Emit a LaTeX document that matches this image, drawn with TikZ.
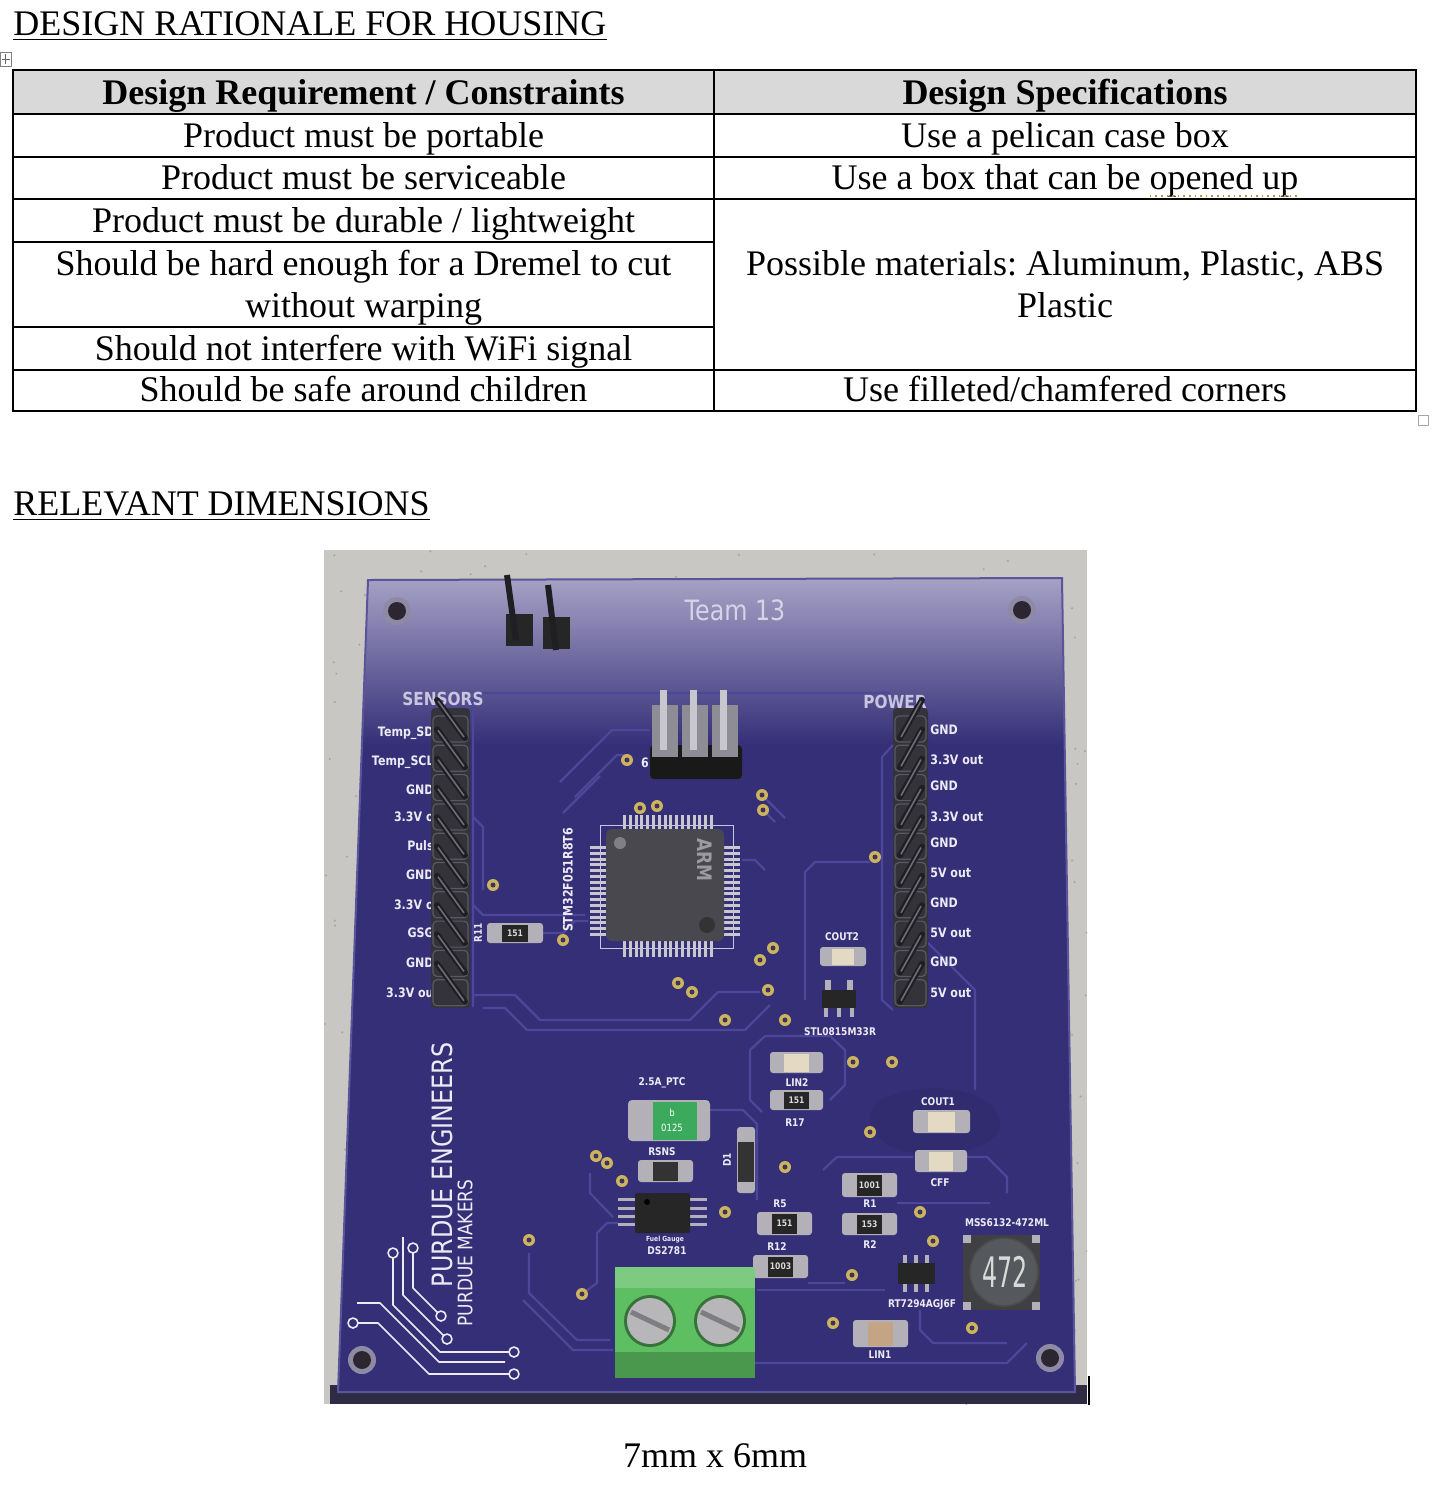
\documentclass[tikz,border=0pt]{standalone}
\usepackage{fontspec}
\setmainfont{Liberation Serif}
\newfontfamily\silkfont[FakeStretch=0.85]{DejaVu Sans}
\usepackage{tikz}
\frenchspacing

\definecolor{headgray}{HTML}{D9D9D9}
\definecolor{grammar}{HTML}{B8963A}
\definecolor{bggray}{HTML}{C9C7C3}
\definecolor{bgspeck}{HTML}{A9A6A2}
\definecolor{boardblue}{HTML}{352F78}
\definecolor{boarddark}{HTML}{2A2560}
\definecolor{boardedge}{HTML}{5A549A}
\definecolor{boardshadow}{HTML}{2F2B45}
\definecolor{glare}{HTML}{A8A3C6}
\definecolor{tracecol}{HTML}{4D4799}
\definecolor{padgold}{HTML}{CDB35E}
\definecolor{padhole}{HTML}{3A3560}
\definecolor{silkwhite}{HTML}{ECEAF4}
\definecolor{silkfaint}{HTML}{C9C5E0}
\definecolor{teamgray}{HTML}{D6D3E6}
\definecolor{holering}{HTML}{8E8AA6}
\definecolor{holedark}{HTML}{2B2630}
\definecolor{metal}{HTML}{B3B0B8}
\definecolor{metalgray}{HTML}{8E8C94}
\definecolor{pinsilver}{HTML}{C9C7CE}
\definecolor{chipgray}{HTML}{49484F}
\definecolor{capcream}{HTML}{E4D9C2}
\definecolor{captan}{HTML}{C3A585}
\definecolor{termgreen}{HTML}{5DBE62}
\definecolor{ptcgreen}{HTML}{3BAA5C}
\definecolor{screwgray}{HTML}{B7B7BA}
\definecolor{screwslot}{HTML}{7D7D82}
\definecolor{housing}{HTML}{34333A}
\definecolor{housingedge}{HTML}{5A5962}
\definecolor{pinblack}{HTML}{1F1E22}
\definecolor{pinshine}{HTML}{6E6D75}
\definecolor{inductorbase}{HTML}{3F3F44}
\definecolor{inductorgray}{HTML}{55585C}

\newcommand{\smdpart}[7]{%
  \fill[metal, rounded corners=1.5pt] (#2,#3) rectangle (#4,#5);
  \fill[#6] ({#2+0.27*(#4-#2)},{#3+1.5}) rectangle ({#4-0.27*(#4-#2)},{#5-1.5});
  \node[marking] (#1) at ({(#2+#4)/2},{(#3+#5)/2}) {#7};
}

\begin{document}
\begin{tikzpicture}[x=0.5pt, y=-0.5pt,
    cell/.style={font=\fontsize{18}{20.5}\selectfont, anchor=base, inner sep=0pt},
    headcell/.style={cell, font=\fontsize{18}{20.5}\selectfont\bfseries},
    rule/.style={line width=1pt},
    silk/.style={text=silkwhite, font=\silkfont\bfseries\fontsize{6.5}{7}\selectfont, inner sep=0pt},
    tinysilk/.style={silk, font=\silkfont\bfseries\fontsize{5.3}{6}\selectfont},
    marking/.style={text=white!85!black, font=\silkfont\bfseries\fontsize{4.5}{5}\selectfont, inner sep=0pt},
    trace/.style={draw=tracecol, line width=1.1pt, line join=round},
    logo/.style={draw=silkwhite, line width=0.8pt, line join=round}]

  \useasboundingbox (0,0) rectangle (1448,1485);
  \fill[white] (0,0) rectangle (1448,1485);

  % table
  \node[cell, anchor=base west] (title) at (13,35) {DESIGN RATIONALE FOR HOUSING};
  \draw[line width=0.9pt] ([yshift=-2.2pt]title.base west) -- ([yshift=-2.2pt]title.base east);

  \draw[gray, line width=0.4pt] (0,52) rectangle (11,66);
  \draw[gray!80!black, line width=0.4pt] (5.5,54) -- (5.5,64) (1.5,59) -- (9.5,59);

  \fill[headgray] (13,70) rectangle (1416,114);
  \draw[rule] (13,70) rectangle (1416,411);
  \draw[rule] (714,70) -- (714,411);
  \foreach \y in {114,157,199,370}
    \draw[rule] (13,\y) -- (1416,\y);
  \foreach \y in {242,327}
    \draw[rule] (13,\y) -- (714,\y);

  \node[headcell] (reqhead) at (363.5,104) {Design Requirement / Constraints};
  \node[headcell] (spechead) at (1065,104) {Design Specifications};
  \node[cell] (req1) at (363.5,147) {Product must be portable};
  \node[cell] (spec1) at (1065,147) {Use a pelican case box};
  \node[cell] (req2) at (363.5,189) {Product must be serviceable};
  \node[cell] (spec2) at (1065,189) {Use a box that can be opened up};
  \node[cell] (req3) at (363.5,232) {Product must be durable / lightweight};
  \node[cell] (req4a) at (363.5,275) {Should be hard enough for a Dremel to cut};
  \node[cell] (req4b) at (363.5,317) {without warping};
  \node[cell] (spec3a) at (1065,275) {Possible materials: Aluminum, Plastic, ABS};
  \node[cell] (spec3b) at (1065,317) {Plastic};
  \node[cell] (req5) at (363.5,360) {Should not interfere with WiFi signal};
  \node[cell] (req6) at (363.5,401) {Should be safe around children};
  \node[cell] (spec4) at (1065,401) {Use filleted/chamfered corners};
  \draw[grammar, dotted, line width=0.8pt] ([xshift=-74.5pt,yshift=-3.6pt]spec2.base east) -- ([yshift=-3.6pt]spec2.base east);
  \draw[gray!70, line width=0.4pt] (1418,415) rectangle (1428,425);

  \node[cell, anchor=base west] (dimtitle) at (13,515) {RELEVANT DIMENSIONS};
  \draw[line width=0.9pt] ([yshift=-2.2pt]dimtitle.base west) -- ([yshift=-2.2pt]dimtitle.base east);

  % photo of the board
  \begin{scope}
    \clip (324,550) rectangle (1087,1404);
    \fill[bggray] (324,550) rectangle (1087,1404);
    \pgfmathsetseed{42}
    \foreach \i in {1,...,500}
      \fill[bgspeck] ({324+763*rnd},{550+854*rnd}) circle (1.2);
    \fill[boardshadow] (330,1385) rectangle (1087,1404);
    \fill[boardblue] (368,580) -- (1062,578) -- (1075,1392) -- (338,1392) -- cycle;
    \begin{scope}
      \clip (368,580) -- (1062,578) -- (1075,1392) -- (338,1392) -- cycle;
      \shade[top color=glare, bottom color=boardblue] (330,575) rectangle (1080,745);
    \end{scope}
    \draw[boardedge, line width=1pt] (368,580) -- (1062,578) -- (1075,1392) -- (338,1392) -- cycle;
    \fill[boarddark, opacity=0.35] (880,1100) .. controls (920,1080) and (990,1085) .. (1000,1120)
      .. controls (1005,1150) and (940,1160) .. (900,1150) .. controls (870,1140) and (860,1115) .. (880,1100);

    \foreach \hx/\hy in {397/611, 1022/610, 362/1360, 1050/1358} {
      \fill[holering] (\hx,\hy) circle (14);
      \fill[holedark] (\hx,\hy) circle (9);
    }
    \node[text=teamgray, font=\silkfont\fontsize{14}{16}\selectfont] (team) at (735,610) {Team 13};

    % traces
    \draw[trace] (473,1007) -- (473,701) -- (481,693) -- (890,693);
    \draw[trace] (560,782) -- (612,730) -- (650,730);
    \draw[trace] (575,797) -- (617,755) -- (627,755);
    \draw[trace] (563,813) -- (600,776);
    \draw[trace] (473,817) -- (483,827) -- (483,890);
    \draw[trace] (473,905) -- (483,915) -- (585,915);
    \draw[trace] (543,933) -- (563,933) -- (575,921) -- (588,921);
    \draw[trace] (473,995) -- (515,995) -- (540,1020) -- (690,1020) -- (718,992) -- (760,992);
    \draw[trace] (483,1008) -- (505,1008) -- (527,1030) -- (745,1030) -- (770,1005);
    \draw[trace] (762,795) -- (785,818);
    \draw[trace] (763,810) -- (775,822);
    \draw[trace] (805,1000) -- (805,872) -- (815,862) -- (870,862);
    \draw[trace] (742,860) -- (755,860) -- (765,870);
    \draw[trace] (893,745) -- (882,757) -- (882,1000) -- (893,1010);
    \draw[trace] (925,940) -- (975,990) -- (975,1090);
    \draw[trace] (765,1036) -- (830,1036) -- (845,1050) -- (845,1085) -- (830,1100);
    \draw[trace] (765,1036) -- (750,1050) -- (750,1100) -- (762,1112);
    \draw[trace] (710,1110) -- (743,1110) -- (757,1124) -- (757,1200);
    \draw[trace] (823,1170) -- (837,1157) -- (913,1157);
    \draw[trace] (967,1157) -- (987,1157) -- (1007,1177) -- (1007,1193);
    \draw[trace] (897,1203) -- (990,1203);
    \draw[trace] (757,1290) -- (885,1290);
    \draw[trace] (808,1283) -- (845,1283);
    \draw[trace] (755,1363) -- (1007,1363) -- (1027,1343);
    \draw[trace] (920,1310) -- (920,1330) -- (933,1343) -- (1007,1343);
    \draw[trace] (529,1253) -- (529,1293) -- (577,1340) -- (610,1340);
    \draw[trace] (523,1300) -- (573,1350) -- (613,1350);
    \draw[trace] (582,1294) -- (597,1283) -- (597,1233) -- (607,1223) -- (618,1223);
    \draw[trace] (590,1173) -- (590,1193) -- (613,1217);

    \foreach \px/\py in {627/760, 762/795, 763/810, 657/806, 640/808, 493/885, 563/940,
        773/948, 760/960, 678/983, 692/992, 768/990, 725/1020, 785/1020, 875/857,
        853/1062, 892/1062, 870/1132, 920/1212, 933/1241, 852/1275, 833/1323, 972/1328,
        596/1156, 607/1163, 622/1181, 725/1212, 785/1167, 529/1240, 582/1294} {
      \fill[padgold] (\px,\py) circle (6);
      \fill[padhole] (\px,\py) circle (2.5);
    }

    % logo
    \draw[logo] (393,1258) -- (393,1305) -- (440,1352) -- (509,1352);
    \draw[logo] (403,1237) -- (403,1295) -- (444,1336);
    \draw[logo] (413,1253) -- (413,1288) -- (438,1313);
    \draw[logo] (357,1303) -- (380,1303) -- (439,1362) -- (505,1362);
    \draw[logo] (358,1323) -- (378,1323) -- (429,1374) -- (509,1374);
    \foreach \cx/\cy in {393/1253, 413/1248, 353/1323, 441/1316, 447/1339, 514/1352, 514/1374}
      \draw[logo] (\cx,\cy) circle (5);
    \node[text=silkwhite, font=\silkfont\fontsize{14}{15}\selectfont, rotate=90] (purdueeng) at (442,1165) {PURDUE ENGINEERS};
    \node[text=silkwhite, font=\silkfont\fontsize{10}{11}\selectfont, rotate=90] (purduemak) at (465,1253) {PURDUE MAKERS};

    % left header
    \node[silk, text=silkfaint, font=\silkfont\bfseries\fontsize{9}{10}\selectfont] (sensors) at (443,699) {SENSORS};
    \foreach \ly/\lt [count=\k] in {733/Temp\_SD, 762/Temp\_SCL, 790/GND, 817/3.3V o, 846/Puls,
        875/GND, 905/3.3V o, 933/GSG, 963/GND, 993/3.3V ou}
      \node[silk, anchor=east] (senslbl\k) at (434,\ly) {\lt};
    \fill[housing, rounded corners=2pt] (431,708) rectangle (470,1008);
    \foreach \i in {0,...,9} {
      \pgfmathsetmacro{\py}{716+29.3*\i}
      \draw[housingedge, line width=0.6pt, rounded corners=2pt] (433,\py) rectangle (468,\py+26);
      \draw[pinblack, line width=3pt, line cap=round] (437,\py-16) -- (465,\py+22);
      \draw[pinshine, line width=0.8pt] (438,\py-15) -- (464,\py+21);
    }

    % right header
    \node[silk, text=silkfaint, font=\silkfont\bfseries\fontsize{9}{10}\selectfont] (power) at (895,702) {POWER};
    \foreach \ly/\lt [count=\k] in {730/GND, 760/3.3V out, 786/GND, 817/3.3V out, 843/GND,
        873/5V out, 903/GND, 933/5V out, 962/GND, 993/5V out}
      \node[silk, anchor=west] (powlbl\k) at (930,\ly) {\lt};
    \fill[housing, rounded corners=2pt] (893,708) rectangle (928,1008);
    \foreach \i in {0,...,9} {
      \pgfmathsetmacro{\py}{716+29.3*\i}
      \draw[housingedge, line width=0.6pt, rounded corners=2pt] (895,\py) rectangle (926,\py+26);
      \draw[pinblack, line width=3pt, line cap=round] (900,\py+22) -- (922,\py-16);
      \draw[pinshine, line width=0.8pt] (901,\py+21) -- (921,\py-15);
    }

    % top pin headers
    \fill[black!85] (506,614) rectangle (533,646);
    \fill[black!85] (543,617) rectangle (570,649);
    \draw[pinblack, line width=3pt] (507,575) -- (516,640);
    \draw[pinblack, line width=3pt] (548,585) -- (556,650);
    \fill[black!90, rounded corners=2pt] (650,745) rectangle (742,779);
    \foreach \hx in {665,695,725} {
      \fill[metalgray] (\hx-13,705) rectangle (\hx+13,757);
      \draw[pinsilver, line width=3.5pt] (\hx-2,690) -- (\hx-2,750);
    }
    \node[silk] (pinsix) at (645,763) {6};

    % microcontroller
    \draw[silkfaint, line width=0.5pt] (600,825) rectangle (733,948);
    \foreach \i in {0,...,15} {
      \pgfmathsetmacro{\q}{623+5.8*\i}
      \fill[pinsilver] (\q,815) rectangle (\q+3,830);
      \fill[pinsilver] (\q,940) rectangle (\q+3,957);
      \pgfmathsetmacro{\r}{846+5.8*\i}
      \fill[pinsilver] (590,\r) rectangle (607,\r+3);
      \fill[pinsilver] (723,\r) rectangle (740,\r+3);
    }
    \fill[chipgray, rounded corners=3pt] (606,829) rectangle (724,941);
    \fill[chipgray!70!white] (620,843) circle (6);
    \fill[black!80] (707,925) circle (8);
    \node[text=chipgray!55!white, font=\silkfont\bfseries\fontsize{10}{10}\selectfont, rotate=-90] (armmark) at (705,860) {ARM};
    \node[silk, rotate=90] (mculbl) at (568,880) {STM32F051R8T6};

    % small parts
    \smdpart{r11}{487}{923}{543}{943}{black!85}{151}
    \node[tinysilk, rotate=90] (r11lbl) at (478,933) {R11};
    \smdpart{cout2}{820}{947}{866}{966}{capcream}{}
    \node[tinysilk] (cout2lbl) at (842,937) {COUT2};
    \fill[black!85] (822,990) rectangle (856,1008);
    \foreach \lx in {828,850}
      \fill[metal] (\lx-3,980) rectangle (\lx+3,990);
    \foreach \lx in {826,839,852}
      \fill[metal] (\lx-2,1008) rectangle (\lx+2,1017);
    \node[tinysilk] (stllbl) at (840,1032) {STL0815M33R};
    \smdpart{lin2}{770}{1052}{823}{1073}{capcream}{}
    \node[tinysilk] (lin2lbl) at (797,1083) {LIN2};
    \smdpart{r17}{770}{1090}{823}{1110}{black!85}{151}
    \node[tinysilk] (r17lbl) at (795,1123) {R17};

    \node[tinysilk] (ptclbl) at (662,1083) {2.5A\_PTC};
    \fill[metal, rounded corners=2pt] (628,1100) rectangle (710,1141);
    \fill[ptcgreen] (653,1102) rectangle (697,1140);
    \node[marking, text=white, font=\silkfont\fontsize{5}{6}\selectfont] (ptcb) at (672,1113) {b};
    \node[marking, text=white, font=\silkfont\fontsize{5}{6}\selectfont] (ptcnum) at (672,1128) {0125};
    \node[tinysilk] (rsnslbl) at (662,1152) {RSNS};
    \smdpart{rsns}{638}{1160}{693}{1182}{black!80}{}
    \fill[metal, rounded corners=1.5pt] (737,1127) rectangle (755,1193);
    \fill[black!80] (738,1142) rectangle (754,1182);
    \node[tinysilk, rotate=90] (d1lbl) at (727,1160) {D1};

    \foreach \ly in {1198,1207,1215,1223} {
      \fill[metal] (618,\ly) rectangle (635,\ly+3);
      \fill[metal] (690,\ly) rectangle (707,\ly+3);
    }
    \fill[black!85, rounded corners=1pt] (635,1193) rectangle (690,1233);
    \fill[black] (647,1202) circle (3);
    \node[tinysilk, font=\silkfont\bfseries\fontsize{3.5}{4}\selectfont] (fuellbl) at (665,1240) {Fuel Gauge};
    \node[tinysilk] (dslbl) at (667,1251) {DS2781};

    \node[tinysilk] (r5lbl) at (780,1204) {R5};
    \smdpart{r5}{757}{1212}{812}{1235}{black!85}{151}
    \node[tinysilk] (r12lbl) at (777,1247) {R12};
    \smdpart{r12}{753}{1255}{808}{1278}{black!85}{1003}

    \smdpart{cout1}{913}{1110}{970}{1133}{capcream}{}
    \node[tinysilk] (cout1lbl) at (938,1102) {COUT1};
    \smdpart{cff}{915}{1150}{967}{1172}{capcream}{}
    \node[tinysilk] (cfflbl) at (940,1183) {CFF};
    \smdpart{r1}{842}{1173}{897}{1197}{black!85}{1001}
    \node[tinysilk] (r1lbl) at (870,1204) {R1};
    \smdpart{r2}{842}{1213}{897}{1235}{black!85}{153}
    \node[tinysilk] (r2lbl) at (870,1245) {R2};

    \foreach \lx in {905,916,927} {
      \fill[metal] (\lx-2,1255) rectangle (\lx+2,1263);
      \fill[metal] (\lx-2,1284) rectangle (\lx+2,1292);
    }
    \fill[black!85] (898,1263) rectangle (935,1284);
    \node[tinysilk] (rtlbl) at (922,1305) {RT7294AGJ6F};

    \node[tinysilk] (msslbl) at (1007,1223) {MSS6132-472ML};
    \fill[inductorbase] (963,1235) rectangle (1040,1310);
    \foreach \cx/\cy in {967/1239, 1036/1239, 967/1306, 1036/1306}
      \fill[metal] (\cx-4,\cy-4) rectangle (\cx+4,\cy+4);
    \fill[inductorgray] (1004,1272) circle (34);
    \draw[black!70, line width=0.8pt] (1004,1272) circle (34);
    \node[text=white!85!black, font=\silkfont\fontsize{14}{14}\selectfont, yscale=1.5] (indmark) at (1005,1272) {472};

    \smdpart{lin1}{853}{1320}{908}{1347}{captan}{}
    \node[tinysilk] (lin1lbl) at (880,1355) {LIN1};

    % terminal block
    \fill[termgreen] (615,1267) rectangle (755,1378);
    \fill[termgreen!80!white] (615,1267) rectangle (755,1288);
    \fill[termgreen!80!black] (615,1352) rectangle (755,1378);
    \foreach \sx in {650,720} {
      \fill[termgreen!60!black] (\sx,1321) circle (26);
      \fill[screwgray] (\sx,1321) circle (23);
      \draw[screwslot, line width=2.5pt] (\sx-19,1312) -- (\sx+19,1330);
    }
  \end{scope}

  \draw[line width=1pt] (1089,1376) -- (1089,1405);
  \node[cell] (caption) at (715,1467) {7mm x 6mm};
\end{tikzpicture}
\end{document}
